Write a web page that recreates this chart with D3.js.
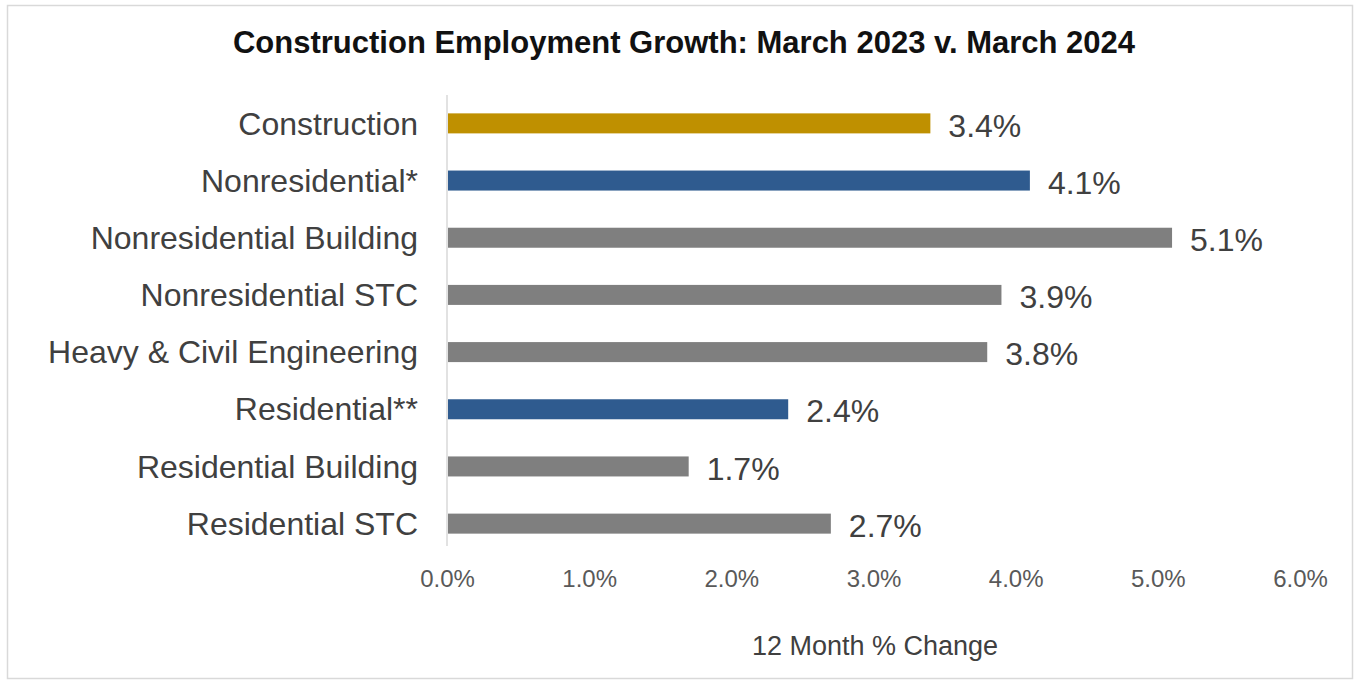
<!DOCTYPE html>
<html>
<head>
<meta charset="utf-8">
<script src="https://cdn.jsdelivr.net/npm/d3@7"></script>
<style>
  body { margin: 0; background: #fff; }
  svg { display: block; font-family: "Liberation Sans", Arial, sans-serif; }
</style>
</head>
<body>
<div id="chart"></div>
<script>
// data
const categories = [
  "Construction",
  "Nonresidential*",
  "Nonresidential Building",
  "Nonresidential STC",
  "Heavy & Civil Engineering",
  "Residential**",
  "Residential Building",
  "Residential STC"
];
const values = [3.4, 4.1, 5.1, 3.9, 3.8, 2.4, 1.7, 2.7];
const groups = ["total", "sector", "sub", "sub", "sub", "sector", "sub", "sub"];
const tickValues = [0, 1, 2, 3, 4, 5, 6];

const width = 1359, height = 683;
const colors = { total: "#BF9000", sector: "#2F5B8F", sub: "#7F7F7F" };

const svg = d3.select("#chart").append("svg")
  .attr("width", width)
  .attr("height", height);

// outer frame
svg.append("rect")
  .attr("x", 7.5).attr("y", 5.5)
  .attr("width", 1345).attr("height", 673)
  .attr("fill", "#fff")
  .attr("stroke", "#d9d9d9")
  .attr("stroke-width", 1.5);

// title
svg.append("text")
  .attr("x", 684).attr("y", 53)
  .attr("text-anchor", "middle")
  .attr("font-size", "31px")
  .attr("font-weight", "bold")
  .attr("fill", "#111")
  .text("Construction Employment Growth: March 2023 v. March 2024");

const x = d3.scaleLinear().domain([0, 6]).range([447, 1300]);
const y = d3.scaleBand().domain(categories).range([94.5, 552.5]).paddingInner(0.65).paddingOuter(0.33);

// vertical axis line
svg.append("line")
  .attr("x1", x(0)).attr("x2", x(0))
  .attr("y1", 95).attr("y2", 546)
  .attr("stroke", "#d9d9d9")
  .attr("stroke-width", 1.5);

// bars
svg.selectAll(".bar")
  .data(categories)
  .enter()
  .append("rect")
  .attr("class", "bar")
  .attr("x", x(0) + 1)
  .attr("y", d => y(d))
  .attr("width", (d, i) => x(values[i]) - x(0) - 1)
  .attr("height", y.bandwidth())
  .attr("fill", (d, i) => colors[groups[i]]);

// category labels
svg.selectAll(".cat")
  .data(categories)
  .enter()
  .append("text")
  .attr("class", "cat")
  .attr("x", 418)
  .attr("y", d => y(d) + y.bandwidth() / 2)
  .attr("dy", "0.35em")
  .attr("text-anchor", "end")
  .attr("font-size", "32px")
  .attr("fill", "#404040")
  .text(d => d);

// value labels
svg.selectAll(".val")
  .data(categories)
  .enter()
  .append("text")
  .attr("class", "val")
  .attr("x", (d, i) => x(values[i]) + 18)
  .attr("y", d => y(d) + y.bandwidth() / 2 + 2)
  .attr("dy", "0.35em")
  .attr("font-size", "32px")
  .attr("fill", "#404040")
  .text((d, i) => values[i].toFixed(1) + "%");

// x axis tick labels
const xAxis = d3.axisBottom(x)
  .tickValues(tickValues)
  .tickSize(0)
  .tickPadding(0)
  .tickFormat(d => d.toFixed(1) + "%");

const gx = svg.append("g")
  .attr("transform", "translate(0,570)")
  .call(xAxis);
gx.select(".domain").remove();
gx.selectAll("text")
  .attr("font-family", "Liberation Sans, Arial, sans-serif")
  .attr("font-size", "24px")
  .attr("fill", "#595959");

// axis title
svg.append("text")
  .attr("x", 875).attr("y", 655)
  .attr("text-anchor", "middle")
  .attr("font-size", "27px")
  .attr("fill", "#404040")
  .text("12 Month % Change");
</script>
</body>
</html>
